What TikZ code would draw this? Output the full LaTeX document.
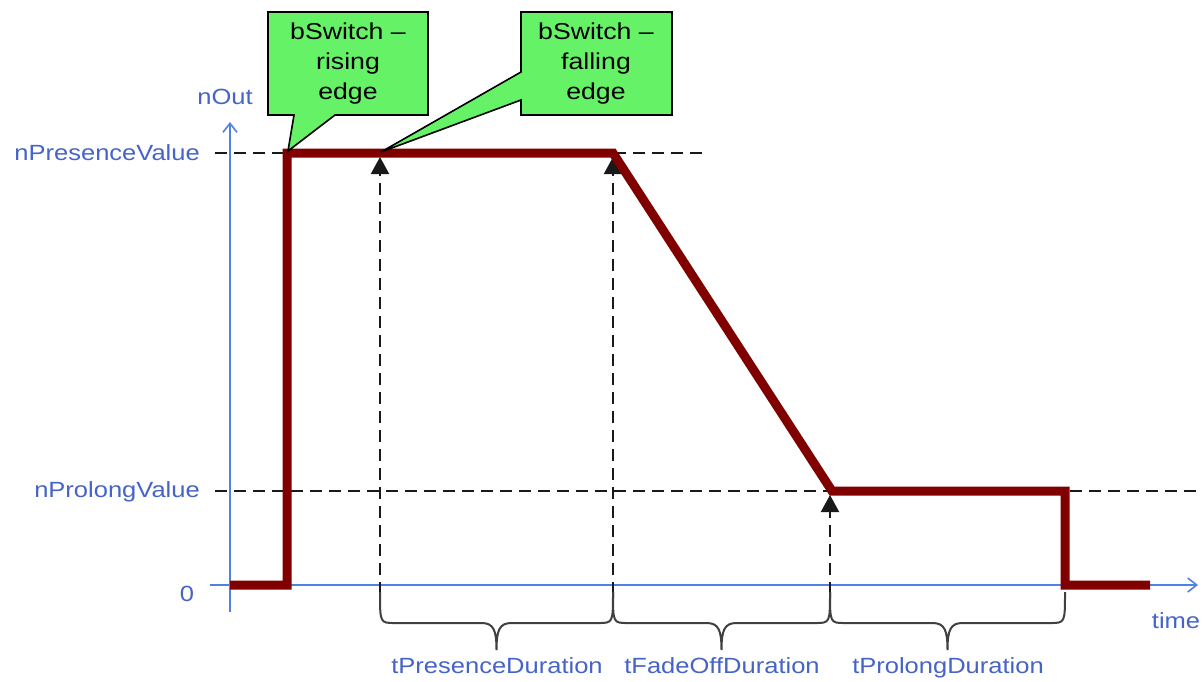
\documentclass[tikz,border=0pt]{standalone}
\usepackage{fontspec}
\setmainfont{Liberation Sans}
\usetikzlibrary{arrows.meta}
\definecolor{sig}{RGB}{128,0,0}
\definecolor{axisblue}{RGB}{80,130,230}
\definecolor{lblblue}{RGB}{70,100,200}
\definecolor{callgreen}{RGB}{102,242,102}
\newcommand{\stx}[1]{\scalebox{1.16}[1]{#1}}
\begin{document}
\begin{tikzpicture}[x=1pt,y=-1pt,
  lbl/.style={text=lblblue,font=\fontsize{22}{26}\selectfont,inner sep=0pt},
  axisline/.style={draw=axisblue,line width=1.6pt,-{Straight Barb[length=9pt,width=14pt,line width=1.6pt]}},
  guide/.style={draw=black!90,line width=2.2pt,dash pattern=on 12pt off 7pt},
  vguide/.style={guide,-{Triangle[length=17pt,width=18pt]}},
  signal/.style={draw=sig,line width=9pt,line join=miter},
  bracestyle/.style={draw=black!75,line width=2pt},
  callout/.style={fill=callgreen,draw=black,line width=1.6pt,line join=miter},
  calltext/.style={font=\fontsize{23}{30}\selectfont,align=center,inner sep=0pt}]

\useasboundingbox[fill=white] (0,0) rectangle (1202,681);

% key coordinates
\coordinate (ybot) at (230,612);
\coordinate (ytop) at (230,122);
\coordinate (xleft) at (210,585);
\coordinate (xright) at (1198,585);
\coordinate (pvL) at (215,153);
\coordinate (pvR) at (705,153);
\coordinate (plL) at (215,491);
\coordinate (plR) at (1196,491);

\coordinate (s0) at (230,585);
\coordinate (s1) at (287,585);
\coordinate (s2) at (287,153);
\coordinate (s3) at (613,153);
\coordinate (s4) at (832,491);
\coordinate (s5) at (1065,491);
\coordinate (s6) at (1065,585);
\coordinate (s7) at (1150,585);

\coordinate (b1) at (380,594);
\coordinate (b2) at (613,594);
\coordinate (b3) at (830,594);
\coordinate (b4) at (1065,594);

\coordinate (a1) at (380,157);
\coordinate (a2) at (613,157);
\coordinate (a3) at (830,495);

% dashed level lines
\draw[guide] (pvL) -- (pvR);
\draw[guide] (plL) -- (plR);

% axes
\draw[axisline] (ybot) -- (ytop);
\draw[axisline] (xleft) -- (xright);

% dashed vertical arrows
\draw[vguide] (b1) -- (a1);
\draw[vguide] (b2) -- (a2);
\draw[vguide] (b3) -- (a3);

% braces
\foreach \l/\r in {380/613, 613/830, 830/1065}{
  \pgfmathsetmacro{\m}{(\l+\r)/2}
  \draw[bracestyle] (\l,592) .. controls (\l,623) and (\l,623) .. (\l+15,623)
     -- (\m-15,623) .. controls (\m-3,623) and (\m,630) .. (\m,650)
     .. controls (\m,630) and (\m+3,623) .. (\m+15,623)
     -- (\r-15,623) .. controls (\r,623) and (\r,623) .. (\r,592);
}

% signal
\draw[signal] (s0) -- (s1) -- (s2) -- (s3) -- (s4) -- (s5) -- (s6) -- (s7);

% axis labels
\node[lbl,anchor=base] (nout) at (225,104) {\stx{nOut}};
\node[lbl,anchor=base east] (npv) at (200,160) {\stx{nPresenceValue}};
\node[lbl,anchor=base east] (nplv) at (200,497) {\stx{nProlongValue}};
\node[lbl,anchor=base] (zero) at (187,601) {\stx{0}};
\node[lbl,anchor=base] (time) at (1176,628) {\stx{time}};

\node[lbl,anchor=base] (tpd) at (497,673) {\stx{tPresenceDuration}};
\node[lbl,anchor=base] (tfd) at (722,673) {\stx{tFadeOffDuration}};
\node[lbl,anchor=base] (tpld) at (948,673) {\stx{tProlongDuration}};

% callouts
\draw[callout] (268,12) -- (428,12) -- (428,115) -- (335,115) -- (288,151) -- (294,115) -- (268,115) -- cycle;
\node[calltext] (c1) at (348,64) {\stx{bSwitch –}\\\stx{rising}\\\stx{edge}};

\draw[callout] (521,12) -- (672,12) -- (672,115) -- (521,115) -- (521,100) -- (381,152) -- (521,72) -- cycle;
\node[calltext] (c2) at (596,64) {\stx{bSwitch –}\\\stx{falling}\\\stx{edge}};

\end{tikzpicture}
\end{document}
